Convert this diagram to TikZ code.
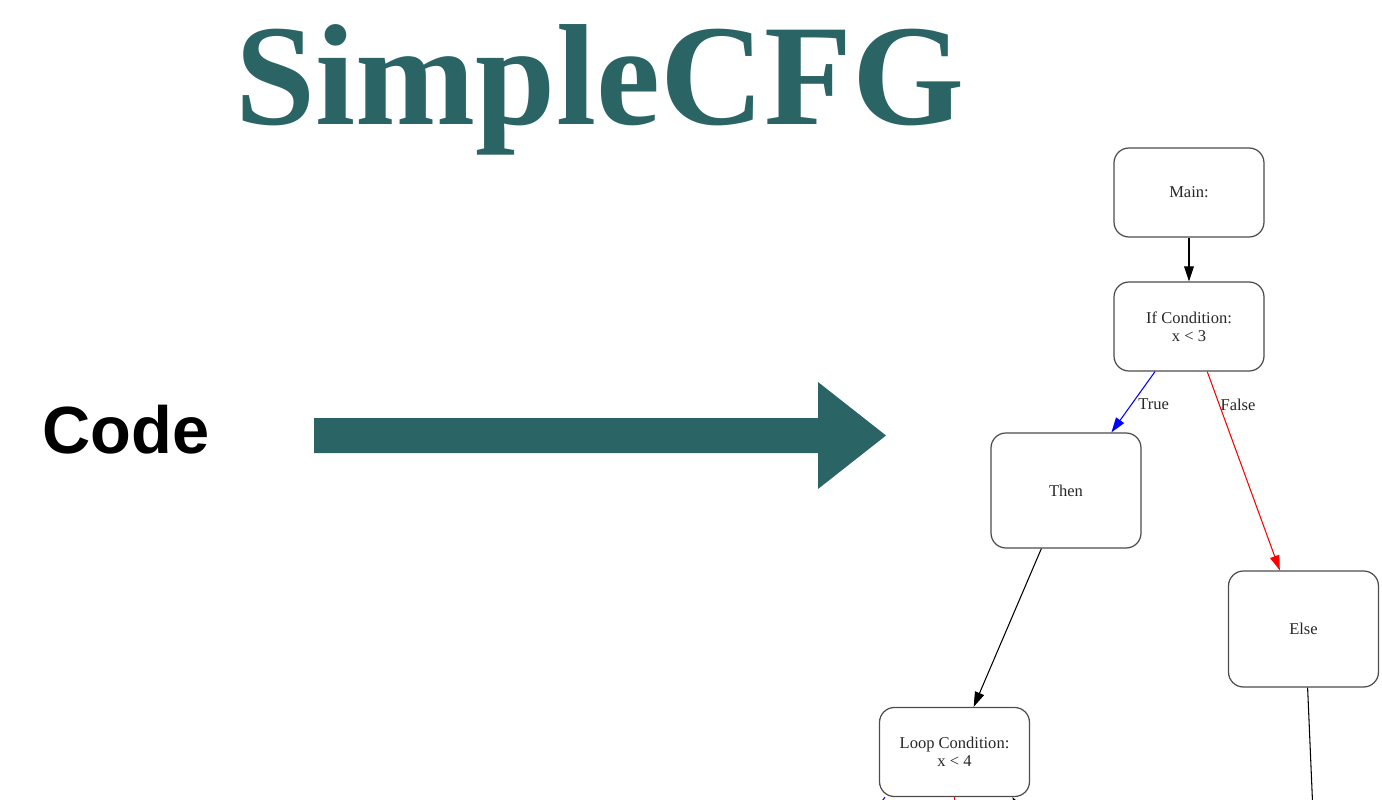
\documentclass[tikz,border=0pt]{standalone}
\usepackage{fontspec}
\setmainfont{Liberation Serif}
\newfontfamily\codefont{Liberation Sans}
\usetikzlibrary{arrows.meta}
\definecolor{cfgteal}{HTML}{2A6465}
\tikzset{
  block/.style={draw=black!70, line width=0.7pt, rounded corners=8.5pt, minimum width=3cm,
    align=center, text=black!85, font=\fontsize{9.4}{10.3}\selectfont},
  flow/.style={-{Triangle[length=8.5pt,width=5.5pt]}, line width=0.6pt},
  edgelbl/.style={anchor=west, text=black!85, font=\fontsize{9.4}{10.3}\selectfont},
}
\begin{document}
\begin{tikzpicture}[x=0.02cm, y=-0.02cm]
\clip (0,0) rectangle (1382,800);
% heading and the big arrow
\node[anchor=base, inner sep=0, text=cfgteal, font=\fontsize{82}{82}\selectfont\bfseries] (title) at (600,125) {SimpleCFG};
\node[anchor=base west, inner sep=0, font=\codefont\fontsize{38}{38}\selectfont\bfseries] (code) at (42,453) {Code};
\fill[cfgteal] (314,418) -- (818,418) -- (818,382) -- (886,435.5) -- (818,489) -- (818,453) -- (314,453) -- cycle;
% control flow graph
\foreach \nm/\cx/\cy/\hgt/\txt in {main/1189/192.5/89/{Main:},
    ifcond/1189/326.5/89/{If Condition:\\x < 3},
    thenb/1066/490.5/115/{Then},
    elseb/1303.5/629/116/{Else},
    loopcond/954.5/752/89/{Loop Condition:\\x < 4}} {%
  \node[block, minimum height=\hgt*0.02cm] (\nm) at (\cx,\cy) {\txt};
}
\coordinate (elseout) at (1315,860);
\coordinate (loopoutl) at (860,830);
\coordinate (loopoutm) at (955,840);
\coordinate (loopinr) at (1040,840);
\draw[flow] (main) -- (ifcond);
\draw[flow, blue] (ifcond.-127) -- node[edgelbl, pos=0.53] {True} (thenb.52);
\draw[flow, red] (ifcond.-68) -- node[edgelbl, pos=0.165, inner sep=0.5pt] {False} (elseb.112);
\draw[flow] (thenb.-113) -- (loopcond.67);
\draw[line width=0.6pt] (elseb.-86) -- (elseout);
\draw[blue, line width=0.6pt] (loopcond.-147) -- (loopoutl);
\draw[red, line width=0.6pt] (loopcond.-90) -- (loopoutm);
\draw[flow] (loopinr) -- (loopcond.-38);
\end{tikzpicture}
\end{document}
